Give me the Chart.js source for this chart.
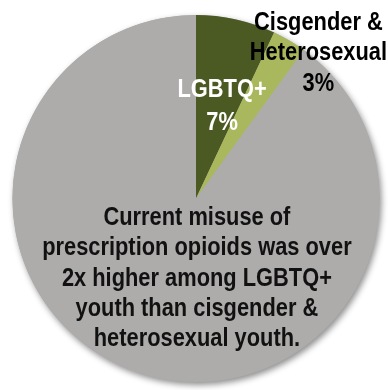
<!DOCTYPE html>
<html>
<head>
<meta charset="utf-8">
<script src="https://cdn.jsdelivr.net/npm/chart.js@4"></script>
<style>
  html, body { margin: 0; padding: 0; background: #fff; }
  #wrap { width: 388px; height: 390px; position: relative; }
</style>
</head>
<body>
<div id="wrap"><canvas id="pie"></canvas></div>
<script>
// Current misuse of prescription opioids, percent of youth
const categories = ['LGBTQ+', 'Cisgender & Heterosexual', 'Other'];
const values = [7, 3, 90];
const sliceColors = ['#4b5a22', '#a9b85d', '#adacab'];

const calloutLines = [
  'Current misuse of',
  'prescription opioids was over',
  '2x higher among LGBTQ+',
  'youth than cisgender &',
  'heterosexual youth.'
];

const FONT = '"Liberation Sans", Arial, sans-serif';
const NARROW = 0.84; // squeeze to a narrow face

// soft drop shadow under the whole pie
const pieShadow = {
  id: 'pieShadow',
  beforeDatasetsDraw(chart) {
    const arc = chart.getDatasetMeta(0).data[0];
    if (!arc) return;
    const { ctx } = chart;
    ctx.save();
    ctx.shadowColor = 'rgba(0,0,0,0.45)';
    ctx.shadowBlur = 6;
    ctx.shadowOffsetX = 2;
    ctx.shadowOffsetY = 3;
    ctx.fillStyle = sliceColors[2];
    ctx.beginPath();
    ctx.arc(arc.x, arc.y, arc.outerRadius, 0, Math.PI * 2);
    ctx.fill();
    ctx.restore();
  }
};

// slice labels and the callout text
const pieText = {
  id: 'pieText',
  afterDatasetsDraw(chart) {
    const arc = chart.getDatasetMeta(0).data[0];
    if (!arc) return;
    const { ctx } = chart;
    const cx = arc.x, cy = arc.y, r = arc.outerRadius;
    const put = (lines, x, y, size, color, lh) => {
      ctx.save();
      ctx.translate(x, y);
      ctx.scale(NARROW, 1);
      ctx.font = 'bold ' + size + 'px ' + FONT;
      ctx.fillStyle = color;
      ctx.textAlign = 'center';
      ctx.textBaseline = 'middle';
      lines.forEach((t, i) => ctx.fillText(t, 0, i * lh));
      ctx.restore();
    };
    put(['LGBTQ+', values[0] + '%'], cx + r * 0.142, cy - r * 0.594, 26, '#ffffff', 33);
    put(['Cisgender &', 'Heterosexual', values[1] + '%'], cx + r * 0.667, cy - r * 0.96, 26, '#000000', 30.5);
    put(calloutLines, cx + r * 0.005, cy + r * 0.106, 26, '#111111', 30.3);
  }
};

new Chart(document.getElementById('pie'), {
  type: 'pie',
  data: {
    labels: categories,
    datasets: [{
      data: values,
      backgroundColor: sliceColors,
      borderWidth: 0,
      hoverOffset: 0
    }]
  },
  options: {
    responsive: true,
    maintainAspectRatio: false,
    animation: false,
    rotation: 0,
    layout: { padding: { left: 12, right: 8, top: 15, bottom: 8 } },
    plugins: {
      legend: { display: false },
      tooltip: { enabled: false }
    }
  },
  plugins: [pieShadow, pieText]
});
</script>
</body>
</html>
